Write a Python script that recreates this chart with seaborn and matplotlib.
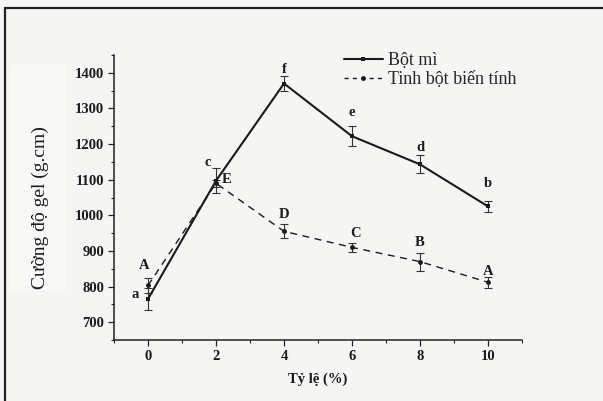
import numpy as np
import pandas as pd
import matplotlib
matplotlib.use('Agg')
import matplotlib.pyplot as plt
from matplotlib.lines import Line2D
from matplotlib.patches import Rectangle
from matplotlib.ticker import MultipleLocator
import seaborn as sns

# Data
ratio = [0, 2, 4, 6, 8, 10]
bot_mi = [765, 1097, 1370, 1222, 1143, 1025]
bot_mi_err = [30, 35, 20, 28, 25, 16]
tinh_bot = [803, 1090, 955, 910, 870, 812]
tinh_bot_err = [20, 10, 20, 12, 25, 15]

bot_mi_letters = ['a', 'c', 'f', 'e', 'd', 'b']
bot_mi_letter_xy = [(-0.38, 778), (1.76, 1148), (4.02, 1410), (6.0, 1290), (8.0, 1189), (10.0, 1088)]
tinh_bot_letters = ['A', 'E', 'D', 'C', 'B', 'A']
tinh_bot_letter_xy = [(-0.1, 860), (2.32, 1100), (4.0, 1001), (6.1, 950), (8.0, 925), (10.0, 843)]

sns.set_style('ticks')
serif = ['Liberation Serif', 'DejaVu Serif']
plt.rcParams['font.family'] = serif
bg = '#f5f5f3'

fig = plt.figure(figsize=(6.03, 4.01), dpi=100, facecolor=bg)
ax = fig.add_axes([114 / 603, 1 - 340 / 401, 408 / 603, 285 / 401])
ax.set_facecolor(bg)

# faint lighter patch behind the y label, like the scanned original
fig.patches.append(Rectangle((10 / 603, 1 - 290 / 401), 55 / 603, 225 / 401,
                             transform=fig.transFigure, color='#f8f8f7', zorder=0))

df_mi = pd.DataFrame({'x': ratio, 'y': bot_mi})
df_tb = pd.DataFrame({'x': ratio, 'y': tinh_bot})

sns.lineplot(data=df_mi, x='x', y='y', ax=ax, color='#1a1a1a', lw=1.5,
             marker='s', markersize=3.5, markeredgewidth=0, zorder=3)
sns.lineplot(data=df_tb, x='x', y='y', ax=ax, color='#1a1a1a', lw=1.0,
             linestyle=(0, (5, 4)), marker='o', markersize=3.5, markeredgewidth=0, zorder=3)

ax.errorbar(ratio, bot_mi, yerr=bot_mi_err, fmt='none', ecolor='#333333',
            elinewidth=0.8, capsize=3, capthick=0.8, zorder=2)
ax.errorbar(ratio, tinh_bot, yerr=tinh_bot_err, fmt='none', ecolor='#333333',
            elinewidth=0.8, capsize=3, capthick=0.8, zorder=2)

for t, (lx, ly) in zip(bot_mi_letters, bot_mi_letter_xy):
    ax.text(lx, ly, t, ha='center', va='center', fontsize=10.5, fontweight='bold', color='#1a1a1a')
for t, (lx, ly) in zip(tinh_bot_letters, tinh_bot_letter_xy):
    ax.text(lx, ly, t, ha='center', va='center', fontsize=10.5, fontweight='bold', color='#1a1a1a')

ax.set_xlim(-1, 11)
ax.set_ylim(650, 1450)
ax.set_xticks(ratio)
ax.set_yticks([700, 800, 900, 1000, 1100, 1200, 1300, 1400])
ax.xaxis.set_minor_locator(MultipleLocator(1))
ax.yaxis.set_minor_locator(MultipleLocator(50))
ax.tick_params(which='major', direction='out', length=4.5, width=0.9, color='#222222',
               labelsize=10.5, pad=2.5)
ax.tick_params(which='minor', direction='out', length=2.5, width=0.8, color='#222222')
for lab in ax.get_xticklabels() + ax.get_yticklabels():
    lab.set_fontweight('bold')
    lab.set_color('#1a1a1a')

for side in ['top', 'right']:
    ax.spines[side].set_visible(False)
for side in ['left', 'bottom']:
    ax.spines[side].set_linewidth(1.1)
    ax.spines[side].set_color('#222222')

ax.set_xlabel('Tỷ lệ (%)', fontsize=10.5, fontweight='bold', labelpad=7, color='#1a1a1a')
ax.set_ylabel('')
fig.text(40 / 603, 1 - 208 / 401, 'Cường độ gel (g.cm)', rotation=90, ha='center',
         va='center', fontsize=14, color='#1a1a1a')

handles = [
    Line2D([], [], color='#1a1a1a', lw=1.5, marker='s', markersize=3.5, markeredgewidth=0),
    Line2D([], [], color='#1a1a1a', lw=1.0, linestyle=(0, (3, 3)), marker='o',
           markersize=3.5, markeredgewidth=0),
]
ax.legend(handles, ['Bột mì', 'Tinh bột biến tính'], loc='upper left',
          bbox_to_anchor=(0.545, 1.035), frameon=False, fontsize=13,
          handlelength=2.2, handletextpad=0.25, labelspacing=0.1, borderaxespad=0)

# scanned frame: top and left edges
fig.add_artist(Line2D([5 / 603, 1.0], [1 - 8 / 401, 1 - 8 / 401], transform=fig.transFigure,
                      color='#222222', lw=1.6))
fig.add_artist(Line2D([5 / 603, 5 / 603], [0.0, 1 - 8 / 401], transform=fig.transFigure,
                      color='#222222', lw=1.6))

fig.savefig('out.png', dpi=100, facecolor=bg)
